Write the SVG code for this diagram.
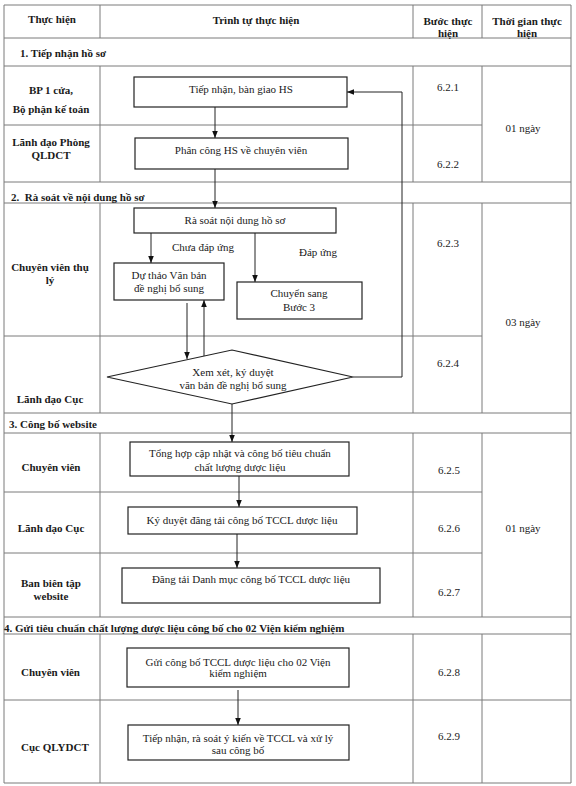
<svg xmlns="http://www.w3.org/2000/svg" width="576" height="786" viewBox="0 0 576 786">
<defs>
<style>
text{font-family:"Liberation Serif","Times New Roman",serif;font-size:11px;fill:#1a1a1a}
.b{font-weight:bold}
.c{text-anchor:middle}
.grid line{stroke:#7a7a7a;stroke-width:1}
.node rect,.node polygon{fill:#fff;stroke:#222;stroke-width:1.2}
.conn path{fill:none;stroke:#222;stroke-width:1}
</style>
<marker id="ah" viewBox="0 0 10 10" refX="10" refY="5" markerWidth="7" markerHeight="7" markerUnits="userSpaceOnUse" orient="auto">
<path d="M0,1 L10,5 L0,9 z" fill="#111"/>
</marker>
</defs>
<rect x="0" y="0" width="576" height="786" fill="#fff"/>
<g id="table" class="grid">
<line x1="4" y1="5" x2="571" y2="5"/>
<line x1="4" y1="783" x2="571" y2="783"/>
<line x1="4" y1="5" x2="4" y2="783"/>
<line x1="571" y1="5" x2="571" y2="783"/>
<line x1="4" y1="38" x2="571" y2="38"/>
<line x1="4" y1="66" x2="571" y2="66"/>
<line x1="4" y1="125" x2="482" y2="125"/>
<line x1="4" y1="182" x2="571" y2="182"/>
<line x1="4" y1="203" x2="571" y2="203"/>
<line x1="4" y1="336" x2="482" y2="336"/>
<line x1="4" y1="413" x2="571" y2="413"/>
<line x1="4" y1="433" x2="571" y2="433"/>
<line x1="4" y1="492" x2="482" y2="492"/>
<line x1="4" y1="553" x2="482" y2="553"/>
<line x1="4" y1="617" x2="571" y2="617"/>
<line x1="4" y1="634" x2="571" y2="634"/>
<line x1="4" y1="700" x2="571" y2="700"/>
<line x1="100" y1="5" x2="100" y2="38"/><line x1="413" y1="5" x2="413" y2="38"/><line x1="482" y1="5" x2="482" y2="38"/>
<line x1="100" y1="66" x2="100" y2="182"/><line x1="413" y1="66" x2="413" y2="182"/><line x1="482" y1="66" x2="482" y2="182"/>
<line x1="100" y1="203" x2="100" y2="413"/><line x1="413" y1="203" x2="413" y2="413"/><line x1="482" y1="203" x2="482" y2="413"/>
<line x1="100" y1="433" x2="100" y2="617"/><line x1="413" y1="433" x2="413" y2="617"/><line x1="482" y1="433" x2="482" y2="617"/>
<line x1="100" y1="634" x2="100" y2="783"/><line x1="413" y1="634" x2="413" y2="783"/><line x1="482" y1="634" x2="482" y2="783"/>
</g>
<g id="table-text">
<text class="b c" x="52" y="23">Thực hiện</text>
<text class="b c" x="256" y="24">Trình tự thực hiện</text>
<text class="b c" x="448" y="25">Bước thực</text>
<text class="b c" x="448" y="37">hiện</text>
<text class="b c" x="527" y="25">Thời gian thực</text>
<text class="b c" x="527" y="37">hiện</text>
<text class="b" x="20" y="57">1. Tiếp nhận hồ sơ</text>
<text class="b c" x="51" y="94">BP 1 cửa,</text>
<text class="b c" x="51" y="113">Bộ phận kế toán</text>
<text class="b c" x="51" y="146">Lãnh đạo Phòng</text>
<text class="b c" x="51" y="159">QLDCT</text>
<text class="c" x="448" y="91">6.2.1</text>
<text class="c" x="448" y="168">6.2.2</text>
<text class="c" x="523" y="132">01 ngày</text>
<text class="b" x="11" y="201" xml:space="preserve">2.  Rà soát về nội dung hồ sơ</text>
<text class="b c" x="50" y="271">Chuyên viên thụ</text>
<text class="b c" x="50" y="284">lý</text>
<text class="b c" x="50" y="403">Lãnh đạo Cục</text>
<text class="c" x="448" y="247">6.2.3</text>
<text class="c" x="448" y="367">6.2.4</text>
<text class="c" x="523" y="326">03 ngày</text>
<text class="b" x="9" y="428">3. Công bố website</text>
<text class="b c" x="51" y="471">Chuyên viên</text>
<text class="b c" x="51" y="532">Lãnh đạo Cục</text>
<text class="b c" x="51" y="587">Ban biên tập</text>
<text class="b c" x="51" y="600">website</text>
<text class="c" x="449" y="474">6.2.5</text>
<text class="c" x="449" y="532">6.2.6</text>
<text class="c" x="449" y="596">6.2.7</text>
<text class="c" x="523" y="532">01 ngày</text>
<text class="b" x="4" y="632">4. Gửi tiêu chuẩn chất lượng dược liệu công bố cho 02 Viện kiểm nghiệm</text>
<text class="b" x="21" y="676">Chuyên viên</text>
<text class="b" x="21" y="751">Cục QLYDCT</text>
<text class="c" x="449" y="676">6.2.8</text>
<text class="c" x="449" y="740">6.2.9</text>
</g>
<g id="connectors" class="conn">
<path d="M215,107 V138" marker-end="url(#ah)"/>
<path d="M215,169 V208" marker-end="url(#ah)"/>
<path d="M151,233 V263" marker-end="url(#ah)"/>
<path d="M255,233 V282" marker-end="url(#ah)"/>
<path d="M187,303 V359" marker-end="url(#ah)"/>
<path d="M204,356 V300" marker-end="url(#ah)"/>
<path d="M353,377 H402 V92 H347" marker-end="url(#ah)"/>
<path d="M232,404 V442" marker-end="url(#ah)"/>
<path d="M239,476 V507" marker-end="url(#ah)"/>
<path d="M237,534 V568" marker-end="url(#ah)"/>
<path d="M238,690 V725" marker-end="url(#ah)"/>
</g>
<g id="n1" class="node"><rect x="134" y="77" width="213" height="30"/><text class="c" x="241" y="93">Tiếp nhận, bàn giao HS</text></g>
<g id="n2" class="node"><rect x="135" y="138" width="213" height="31"/><text class="c" x="241" y="154">Phân công HS về chuyên viên</text></g>
<g id="n3" class="node"><rect x="134" y="208" width="202" height="25"/><text class="c" x="235" y="224">Rà soát nội dung hồ sơ</text></g>
<g id="lbl1"><text class="c" x="203" y="251">Chưa đáp ứng</text></g>
<g id="lbl2"><text class="c" x="318" y="256">Đáp ứng</text></g>
<g id="n4" class="node"><rect x="114" y="263" width="110" height="37"/><text class="c" x="169" y="279">Dự thảo Văn bản</text><text class="c" x="169" y="292">đề nghị bổ sung</text></g>
<g id="n5" class="node"><rect x="237" y="282" width="125" height="37"/><text class="c" x="299" y="297">Chuyển sang</text><text class="c" x="299" y="311">Bước 3</text></g>
<g id="n6" class="node"><polygon points="107,377 232,350 353,377 232,404"/><text class="c" x="233" y="376">Xem xét, ký duyệt</text><text class="c" x="233" y="389">văn bản đề nghị bổ sung</text></g>
<g id="n7" class="node"><rect x="130" y="442" width="219" height="34"/><text class="c" x="240" y="457">Tổng hợp cập nhật và công bố tiêu chuẩn</text><text class="c" x="240" y="471">chất lượng dược liệu</text></g>
<g id="n8" class="node"><rect x="128" y="507" width="229" height="27"/><text class="c" x="242" y="524">Ký duyệt đăng tải công bố TCCL dược liệu</text></g>
<g id="n9" class="node"><rect x="122" y="568" width="258" height="35"/><text class="c" x="251" y="583">Đăng tải Danh mục công bố TCCL dược liệu</text></g>
<g id="n10" class="node"><rect x="127" y="648" width="222" height="39"/><text class="c" x="238" y="666">Gửi công bố TCCL dược liệu cho 02 Viện</text><text class="c" x="238" y="677">kiểm nghiệm</text></g>
<g id="n11" class="node"><rect x="128" y="725" width="221" height="35"/><text class="c" x="238" y="742">Tiếp nhận, rà soát ý kiến về TCCL và xử lý</text><text class="c" x="238" y="754">sau công bố</text></g>
</svg>
